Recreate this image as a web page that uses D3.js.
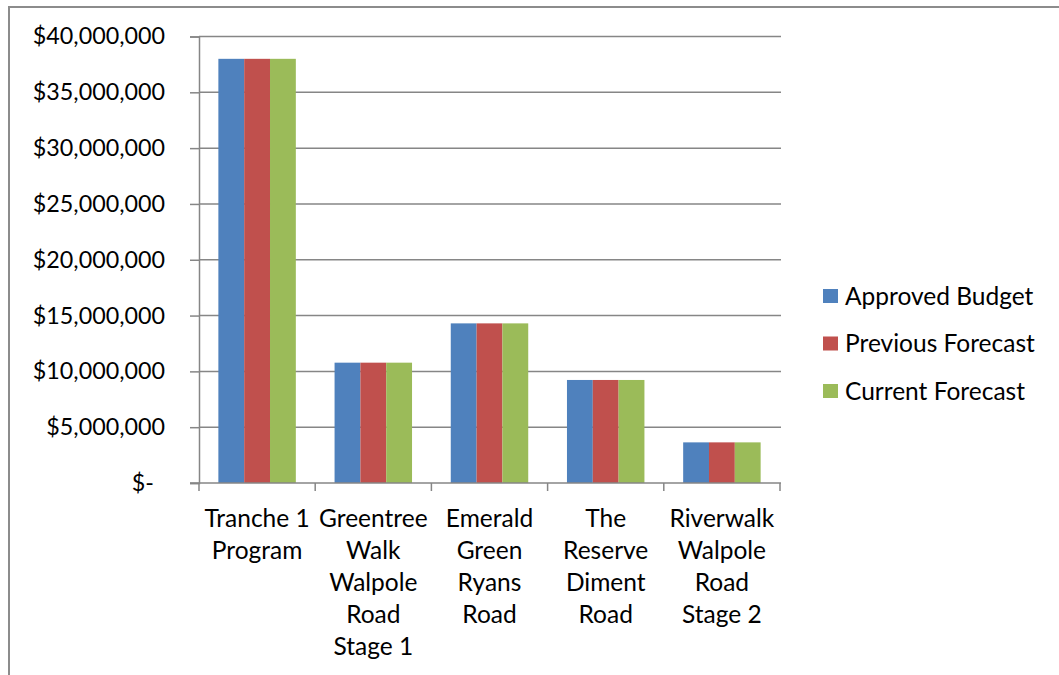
<!DOCTYPE html>
<html>
<head>
<meta charset="utf-8">
<script src="https://cdn.jsdelivr.net/npm/d3@7"></script>
<style>
  body { margin: 0; background: #fff; }
  text { font-family: Lato, "Open Sans", sans-serif; fill: #000; }
</style>
</head>
<body>
<div id="chart"></div>
<script>
// chart values
const categories = ["Tranche 1\nProgram", "Greentree\nWalk\nWalpole\nRoad\nStage 1", "Emerald\nGreen\nRyans\nRoad", "The\nReserve\nDiment\nRoad", "Riverwalk\nWalpole\nRoad\nStage 2"];
const seriesNames = ["Approved Budget", "Previous Forecast", "Current Forecast"];
const approvedBudget = [38000000, 10780000, 14300000, 9230000, 3640000];
const previousForecast = [38000000, 10780000, 14300000, 9230000, 3640000];
const currentForecast = [38000000, 10780000, 14300000, 9230000, 3640000];
const yTicks = [0, 5000000, 10000000, 15000000, 20000000, 25000000, 30000000, 35000000, 40000000];
const colors = ["#4F81BD", "#C0504D", "#9BBB59"];

const W = 1059, H = 675;
const plot = {left: 199, right: 780, top: 36.5, bottom: 483};

const svg = d3.select("#chart").append("svg")
	.attr("width", W)
	.attr("height", H);

// outer chart border (runs off right and bottom edge)
svg.append("rect")
	.attr("x", 9).attr("y", 7)
	.attr("width", W + 20).attr("height", H + 20)
	.attr("fill", "#fff")
	.attr("stroke", "#8c8c8c")
	.attr("stroke-width", 2);

const x = d3.scaleBand()
	.domain(categories)
	.range([plot.left, plot.right])
	.padding(0);

const y = d3.scaleLinear()
	.domain([0, 40000000])
	.range([plot.bottom, plot.top]);

// gridlines
svg.append("g")
	.selectAll("line")
	.data(yTicks.filter(d => d > 0))
	.join("line")
	.attr("x1", plot.left).attr("x2", plot.right + 1)
	.attr("y1", d => y(d)).attr("y2", d => y(d))
	.attr("stroke", "#868686")
	.attr("stroke-width", 1.5);

// bars, excel style gap width 150%
const seriesData = [approvedBudget, previousForecast, currentForecast];
const barW = x.bandwidth() / 4.5;
const offset = barW * 0.75;

seriesData.forEach(function(values, s){
	svg.append("g")
		.selectAll("rect")
		.data(values)
		.join("rect")
		.attr("x", (d, i) => x(categories[i]) + offset + s * barW)
		.attr("y", d => y(d))
		.attr("width", barW)
		.attr("height", d => plot.bottom - y(d))
		.attr("fill", colors[s]);
});

// y axis
const fmt = d3.format(",");
const yAxis = d3.axisLeft(y)
	.tickValues(yTicks)
	.tickSize(9)
	.tickPadding(25)
	.tickFormat(d => d === 0 ? "$-" : "$" + fmt(d));

const gy = svg.append("g")
	.attr("transform", "translate(" + plot.left + ",0)")
	.call(yAxis);
gy.select(".domain").attr("stroke", "#868686").attr("stroke-width", 1.5);
gy.selectAll(".tick line").attr("stroke", "#868686").attr("stroke-width", 1.5);
gy.selectAll(".tick text")
	.style("font-size", "23.3px")
	.attr("x", d => d === 0 ? -45 : -34);

// x axis: baseline and boundary ticks
svg.append("line")
	.attr("x1", plot.left - 9).attr("x2", plot.right + 1)
	.attr("y1", plot.bottom).attr("y2", plot.bottom)
	.attr("stroke", "#868686").attr("stroke-width", 1.5);

const bounds = categories.map(c => x(c)).concat([plot.right]);
svg.append("g")
	.selectAll("line")
	.data(bounds)
	.join("line")
	.attr("x1", d => d).attr("x2", d => d)
	.attr("y1", plot.bottom).attr("y2", plot.bottom + 8)
	.attr("stroke", "#868686").attr("stroke-width", 1.5);

// category labels
const labels = svg.append("g")
	.selectAll("text")
	.data(categories)
	.join("text")
	.attr("text-anchor", "middle")
	.style("font-size", "24.5px")
	.attr("transform", d => "translate(" + (x(d) + x.bandwidth() / 2) + ",527)");

labels.selectAll("tspan")
	.data(d => d.split("\n"))
	.join("tspan")
	.attr("x", 0)
	.attr("y", (d, i) => i * 32)
	.text(d => d);

// legend
const legend = svg.append("g")
	.selectAll("g")
	.data(seriesNames)
	.join("g")
	.attr("transform", (d, i) => "translate(823," + (296 + i * 47.5) + ")");

legend.append("rect")
	.attr("x", 0).attr("y", -7)
	.attr("width", 15).attr("height", 14)
	.attr("fill", (d, i) => colors[i]);

legend.append("text")
	.attr("x", 22)
	.attr("dy", "0.35em")
	.style("font-size", "24.5px")
	.text(d => d);
</script>
</body>
</html>
